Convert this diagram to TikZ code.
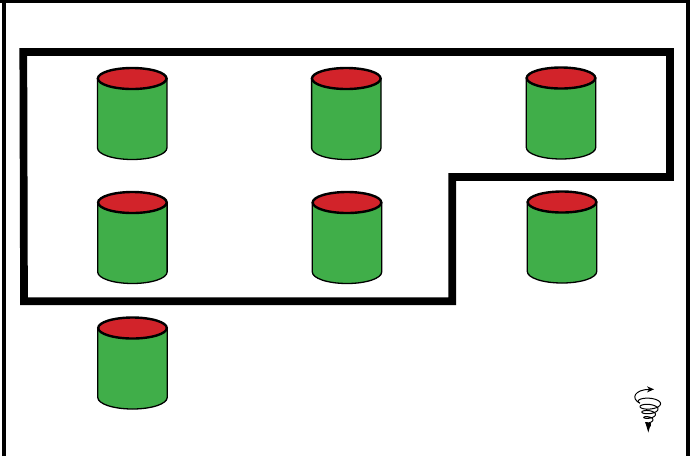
\documentclass[tikz,border=0pt]{standalone}
\usetikzlibrary{arrows.meta}
\definecolor{cangreen}{HTML}{40AE49}
\definecolor{canred}{HTML}{D2232A}
\tikzset{
    can/.pic = {
        \path[draw=black, fill=cangreen, line width=1.3pt] (-34.7,0) -- (-34.7,69.5) arc[start angle=180, end angle=0, x radius=34.7, y radius=11.5] -- (34.7,0) -- cycle;
        \path[draw=black, fill=canred, line width=2.4pt] (0,0) ellipse[x radius=34.3, y radius=10.5];
    }
}
\begin{document}
\begin{tikzpicture}[x=1pt, y=-1pt]
    \useasboundingbox (0,0) rectangle (698,456);
    % outer frame
    \draw[line width=4pt] (4,456) -- (4,1.5);
    \draw[line width=3pt] (0,1.5) -- (690,1.5);
    \draw[line width=4pt] (688,0) -- (688,456);
    % group outline
    \draw[line width=7.7pt, miter limit=10] (23.3,52) -- (670,52) -- (670,177) -- (452.3,177) -- (452.3,301.3) -- (24,301.3) -- cycle;
    % cans
    \pic at (132.2,78.5) {can};
    \pic at (346.3,78.5) {can};
    \pic at (561,78) {can};
    \pic at (132.4,202.5) {can};
    \pic at (347,202.5) {can};
    \pic at (562,202) {can};
    \pic at (132.5,328) {can};
    % swirl
    \coordinate (swirlstart) at (640,403.3);
    \coordinate (swirlend) at (654,389.3);
    \draw[line width=1pt, -{Stealth[length=7pt,width=6pt]}] (swirlstart) .. controls (630,398) and (635,389.5) .. (swirlend);
    \draw[line width=1pt, domain=0:1, samples=400, smooth, variable=\t] plot ({650-1.7*\t+(11*(1-\t)+1)*cos(1800*\t+150)}, {400.7+27*\t+(4*(1-\t)+0.5)*sin(1800*\t+150)});
    \fill (645.5,423) -- (651,423) -- (648.3,432.5) -- cycle;
\end{tikzpicture}
\end{document}
